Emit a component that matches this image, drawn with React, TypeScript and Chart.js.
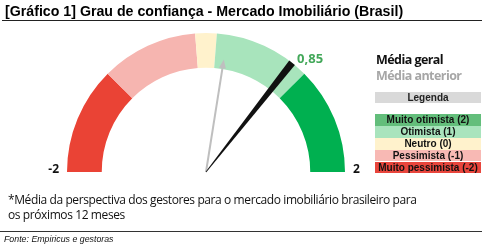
import React, { useEffect, useRef } from "react";
import { Chart, registerables } from "chart.js";

Chart.register(...registerables);

// ---- data ----
const titleText = "[Gráfico 1] Grau de confiança - Mercado Imobiliário (Brasil)";
const categories = ["Muito pessimista", "Pessimista", "Neutro", "Otimista", "Muito otimista"];
const segmentSizes = [1, 0.9, 0.2, 0.9, 1];
const segmentColors = ["#EA4335", "#F6B5B0", "#FFF2CC", "#A8E4BC", "#00B050"];
const gaugeMin = -2;
const gaugeMax = 2;
const axisLabels = ["-2", "2"];
const currentValue = 0.85;
const currentLabel = "0,85";
const previousValue = 0.2;
const seriesNames = ["Média geral", "Média anterior"];
const legendTitle = "Legenda";
const legendLabels = ["Muito otimista (2)", "Otimista (1)", "Neutro (0)", "Pessimista (-1)", "Muito pessimista (-2)"];
const legendColors = ["#63BE7B", "#A9E4BD", "#FFF2CC", "#F8B9B4", "#E8453C"];
const footnoteLines = [
  "*Média da perspectiva dos gestores para o mercado imobiliário brasileiro para",
  "os próximos 12 meses",
];
const sourceText = "Fonte: Empiricus e gestoras";

const SEGOE = '"Open Sans", "Noto Sans", sans-serif';
const ARIAL = '"Liberation Sans", Arial, sans-serif';

const needlePlugin = {
  id: "needles",
  afterDatasetsDraw(chart: any) {
    const meta = chart.getDatasetMeta(0);
    const arcs = meta.data;
    if (!arcs || !arcs.length) return;
    const first = arcs[0];
    const last = arcs[arcs.length - 1];
    const cx = first.x;
    const cy = first.y;
    const r = first.outerRadius;
    const a0 = first.startAngle;
    const a1 = last.endAngle;
    const ang = (v: number) => a0 + ((v - gaugeMin) / (gaugeMax - gaugeMin)) * (a1 - a0);
    const ctx = chart.ctx;
    ctx.save();

    // previous value: grey arrow
    {
      const a = ang(previousValue);
      const len = r * 0.82;
      const ux = Math.cos(a), uy = Math.sin(a);
      const px = -uy, py = ux;
      const head = 9;
      ctx.strokeStyle = "#BFBFBF";
      ctx.fillStyle = "#BFBFBF";
      ctx.lineWidth = 2;
      ctx.beginPath();
      ctx.moveTo(cx, cy);
      ctx.lineTo(cx + ux * (len - head + 1), cy + uy * (len - head + 1));
      ctx.stroke();
      ctx.beginPath();
      ctx.moveTo(cx + ux * len, cy + uy * len);
      ctx.lineTo(cx + ux * (len - head) + px * 3.5, cy + uy * (len - head) + py * 3.5);
      ctx.lineTo(cx + ux * (len - head) - px * 3.5, cy + uy * (len - head) - py * 3.5);
      ctx.closePath();
      ctx.fill();
    }

    // current value: black tapered needle
    {
      const a = ang(currentValue);
      const ux = Math.cos(a), uy = Math.sin(a);
      const px = -uy, py = ux;
      const w0 = 0.4, w1 = 3.6;
      ctx.fillStyle = "#111111";
      ctx.beginPath();
      ctx.moveTo(cx + px * w0, cy + py * w0);
      ctx.lineTo(cx + ux * r + px * w1, cy + uy * r + py * w1);
      ctx.lineTo(cx + ux * r - px * w1, cy + uy * r - py * w1);
      ctx.lineTo(cx - px * w0, cy - py * w0);
      ctx.closePath();
      ctx.fill();

      // value label
      ctx.font = `bold 13px ${SEGOE}`;
      ctx.fillStyle = "#43A85A";
      ctx.textAlign = "left";
      ctx.textBaseline = "alphabetic";
      ctx.fillText(currentLabel, cx + ux * r + 5, cy + uy * r);
    }

    // min / max labels
    ctx.font = `bold 12px ${SEGOE}`;
    ctx.fillStyle = "#111111";
    ctx.textBaseline = "alphabetic";
    ctx.textAlign = "right";
    ctx.fillText(axisLabels[0], cx + Math.cos(a0) * r - 8, cy + 0.5);
    ctx.textAlign = "left";
    ctx.fillText(axisLabels[1], cx + Math.cos(a1) * r + 8, cy + 1);
    ctx.restore();
  },
};

function Gauge() {
  const ref = useRef<HTMLCanvasElement | null>(null);
  useEffect(() => {
    if (!ref.current) return;
    const chart = new Chart(ref.current, {
      type: "doughnut",
      data: {
        labels: categories,
        datasets: [
          {
            data: segmentSizes,
            backgroundColor: segmentColors,
            borderWidth: 0,
          },
        ],
      },
      options: {
        animation: false,
        responsive: false,
        maintainAspectRatio: false,
        rotation: -90,
        circumference: 180,
        cutout: "75%",
        layout: { padding: { left: 67, right: 137, top: 33, bottom: 74 } },
        plugins: {
          legend: { display: false },
          tooltip: { enabled: false },
          title: { display: false },
        },
      },
      plugins: [needlePlugin],
    });
    return () => chart.destroy();
  }, []);
  return (
    <canvas
      ref={ref}
      width={482}
      height={246}
      style={{ position: "absolute", left: 0, top: 0, width: 482, height: 246 }}
    />
  );
}

export default function App() {
  const abs = (s: React.CSSProperties): React.CSSProperties => ({ position: "absolute", whiteSpace: "nowrap", ...s });
  const rowTop = 114.3;
  const rowH = 11.8;
  return (
    <div style={{ position: "fixed", left: 0, top: 0, width: 482, height: 246, background: "#fff", overflow: "hidden" }}>
      <Gauge />
      <div style={abs({ left: 5, top: 3, fontFamily: ARIAL, fontWeight: "bold", fontSize: 14.2, lineHeight: "16px", color: "#000" })}>
        {titleText}
      </div>
      <div style={abs({ left: 2, top: 20, width: 480, height: 1.4, background: "#222" })} />

      <div style={abs({ left: 376, top: 52, fontFamily: SEGOE, fontWeight: "bold", fontSize: 12.5, letterSpacing: -0.55, lineHeight: "16px", color: "#111" })}>
        {seriesNames[0]}
      </div>
      <div style={abs({ left: 376, top: 68, fontFamily: SEGOE, fontWeight: "bold", fontSize: 12.5, letterSpacing: -0.55, lineHeight: "16px", color: "#A6A6A6" })}>
        {seriesNames[1]}
      </div>

      <div
        style={abs({
          left: 375, top: 91.7, width: 106, height: 11.6, background: "#D9D9D9",
          fontFamily: ARIAL, fontWeight: "bold", fontSize: 10, lineHeight: "11.6px", textAlign: "center", color: "#222",
        })}
      >
        {legendTitle}
      </div>
      {legendLabels.map((l, i) => (
        <div
          key={l}
          style={abs({
            left: 375, top: rowTop + i * rowH, width: 106, height: rowH, background: legendColors[i],
            fontFamily: ARIAL, fontWeight: "bold", fontSize: 10, lineHeight: `${rowH}px`, textAlign: "center", color: "#111",
          })}
        >
          {l}
        </div>
      ))}

      {footnoteLines.map((t, i) => (
        <div key={i} style={abs({ left: 8, top: 192 + i * 15, fontFamily: SEGOE, fontSize: 12, letterSpacing: -0.4, lineHeight: "15px", color: "#111" })}>
          {t}
        </div>
      ))}
      <div style={abs({ left: 0, top: 231, width: 482, height: 1, background: "#333" })} />
      <div style={abs({ left: 4, top: 234, fontFamily: ARIAL, fontStyle: "italic", fontSize: 8.8, lineHeight: "10px", color: "#111" })}>
        {sourceText}
      </div>
    </div>
  );
}
